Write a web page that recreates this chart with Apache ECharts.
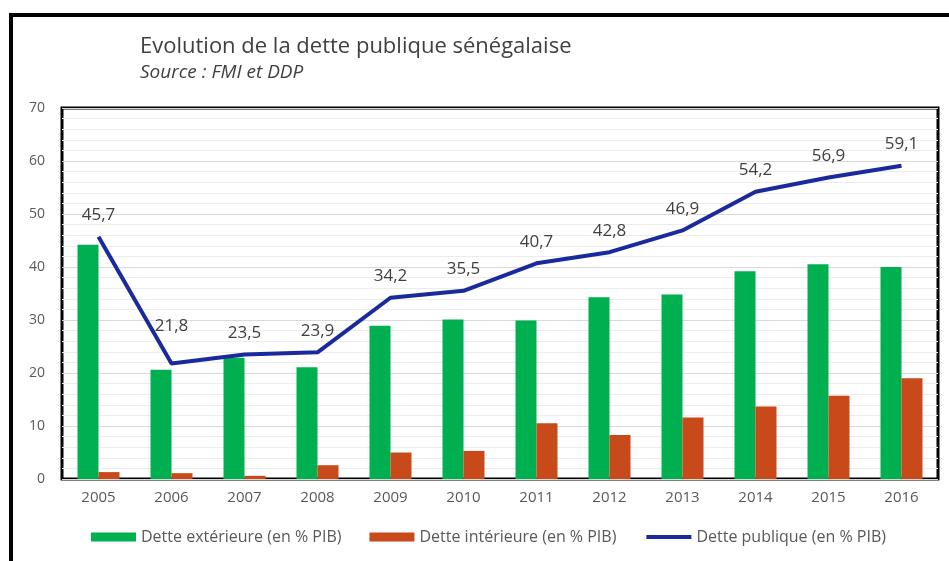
<!DOCTYPE html>
<html>
<head>
<meta charset="utf-8">
<title>Evolution de la dette publique sénégalaise</title>
<script src="https://cdn.jsdelivr.net/npm/echarts@6/dist/echarts.min.js"></script>
<style>
    html, body { margin: 0; padding: 0; background: #fff; }
    #chart { width: 949px; height: 561px; }
</style>
</head>
<body>
<div id="chart"></div>
<script>
var years = ['2005', '2006', '2007', '2008', '2009', '2010', '2011', '2012', '2013', '2014', '2015', '2016'];
var detteExterieure = [44.2, 20.6, 22.9, 21.1, 28.9, 30.1, 29.9, 34.3, 34.8, 39.2, 40.5, 40.0];
var detteInterieure = [1.3, 1.1, 0.6, 2.6, 5.0, 5.3, 10.5, 8.3, 11.6, 13.7, 15.7, 19.0];
var dettePublique = [45.7, 21.8, 23.5, 23.9, 34.2, 35.5, 40.7, 42.8, 46.9, 54.2, 56.9, 59.1];

var textFont = '"Open Sans", "Noto Sans", sans-serif';

// étiquette 21,8 décalée plus haut comme dans l'original
var publiqueData = dettePublique.map(function (v, i) {
    return i === 1 ? { value: v, label: { offset: [0, -16] } } : v;
});

var chart = echarts.init(document.getElementById('chart'));
chart.setOption({
    animation: false,
    backgroundColor: '#fff',
    title: {
        text: 'Evolution de la dette publique sénégalaise',
        subtext: 'Source : FMI et DDP',
        left: 135,
        top: 31,
        itemGap: 5,
        textStyle: { fontFamily: textFont, fontSize: 22, fontWeight: 'normal', color: '#404040' },
        subtextStyle: { fontFamily: textFont, fontSize: 19, fontStyle: 'italic', color: '#404040' }
    },
    graphic: [{
        type: 'polyline',
        shape: { points: [[11, 561], [11, 15], [949, 15]] },
        style: { stroke: '#000', lineWidth: 4, fill: null }
    }],
    legend: {
        bottom: 11,
        left: 86,
        itemWidth: 45,
        itemHeight: 9,
        itemGap: 28,
        textStyle: { fontFamily: textFont, fontSize: 16, color: '#595959' },
        data: [
            { name: 'Dette extérieure (en % PIB)', icon: 'rect' },
            { name: 'Dette intérieure (en % PIB)', icon: 'rect' },
            { name: 'Dette publique (en % PIB)', itemStyle: { opacity: 0 }, lineStyle: { width: 4 } }
        ]
    },
    grid: {
        left: 62,
        right: 11,
        top: 108,
        bottom: 82,
        show: true,
        borderColor: '#000',
        borderWidth: 3,
        backgroundColor: 'transparent'
    },
    xAxis: {
        type: 'category',
        data: years,
        axisLine: { show: false },
        axisTick: { show: false },
        axisLabel: { margin: 11, fontFamily: textFont, fontSize: 15, color: '#595959' }
    },
    yAxis: {
        type: 'value',
        min: 0,
        max: 70,
        interval: 10,
        axisLine: { show: false },
        axisTick: { show: false },
        axisLabel: { margin: 17, fontFamily: textFont, fontSize: 14, color: '#595959' },
        splitLine: { lineStyle: { color: '#d9d9d9', width: 1 } },
        minorTick: { show: false, splitNumber: 5 },
        minorSplitLine: { show: true, lineStyle: { color: '#ececec', width: 1 } }
    },
    series: [
        {
            name: 'Dette extérieure (en % PIB)',
            type: 'bar',
            data: detteExterieure,
            barWidth: 21,
            barGap: '0%',
            itemStyle: { color: '#00b050' }
        },
        {
            name: 'Dette intérieure (en % PIB)',
            type: 'bar',
            data: detteInterieure,
            barWidth: 21,
            itemStyle: { color: '#c8491a' }
        },
        {
            name: 'Dette publique (en % PIB)',
            type: 'line',
            data: publiqueData,
            symbol: 'circle',
            symbolSize: 0,
            z: 5,
            lineStyle: { color: '#1a2a9c', width: 4 },
            itemStyle: { color: '#1a2a9c' },
            label: {
                show: true,
                position: 'top',
                distance: 13,
                fontFamily: textFont,
                fontSize: 17,
                color: '#404040',
                formatter: function (p) {
                    return String(p.value).replace('.', ',');
                }
            }
        }
    ]
});
</script>
</body>
</html>
